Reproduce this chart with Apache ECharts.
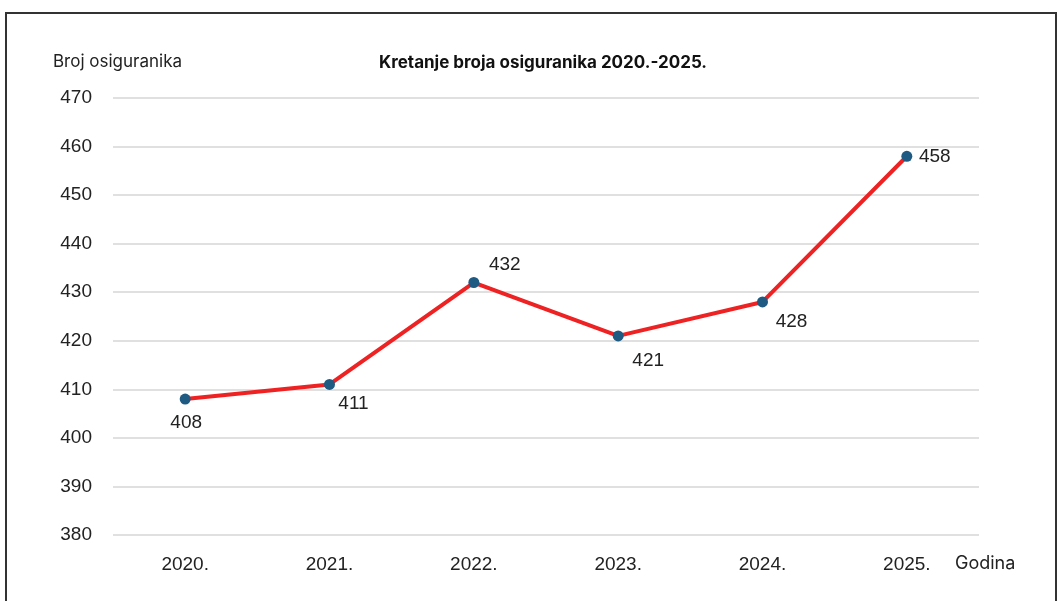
<!DOCTYPE html>
<html><head><meta charset="utf-8">
<script src="https://cdn.jsdelivr.net/npm/echarts@6/dist/echarts.min.js"></script>
<style>
html,body{margin:0;padding:0;background:#fff;}
#c{width:1058px;height:601px;position:relative;}
#frame{position:absolute;left:5px;top:12px;width:1048px;height:600px;border-left:2px solid #333;border-top:2px solid #333;border-right:2px solid #333;pointer-events:none;}
</style></head>
<body>
<div id="c"></div>
<div id="frame"></div>
<script>
const categories = ['2020.', '2021.', '2022.', '2023.', '2024.', '2025.'];
const values = [408, 411, 432, 421, 428, 458];
const yTicks = [380, 390, 400, 410, 420, 430, 440, 450, 460, 470];

const labelOffsets = [[1, 24], [24, 19], [31, -18], [30, 25], [29, 20], [28, 0]];

const chart = echarts.init(document.getElementById('c'));
chart.setOption({
  animation: false,
  title: {
    text: 'Kretanje broja osiguranika 2020.-2025.',
    left: 538, top: 49, textAlign: 'center',
    textStyle: {fontFamily: 'Inter', fontWeight: 'bold', fontSize: 17, color: '#111'}
  },
  grid: {left: 113, right: 79, top: 98, bottom: 66},
  xAxis: {
    type: 'category', data: categories, boundaryGap: true,
    name: 'Godina', nameLocation: 'end', nameGap: -24,
    nameTextStyle: {fontFamily: 'Inter', fontSize: 18, color: '#222', align: 'left', verticalAlign: 'top', padding: [20, 0, 0, 0]},
    axisLine: {show: false}, axisTick: {show: false},
    axisLabel: {fontFamily: 'Liberation Sans', fontSize: 19, color: '#222', margin: 20}
  },
  yAxis: {
    type: 'value', min: yTicks[0], max: yTicks[yTicks.length - 1], interval: 10,
    name: 'Broj osiguranika', nameLocation: 'end', nameGap: 28,
    nameTextStyle: {fontFamily: 'Inter', fontSize: 17, color: '#222', align: 'left', padding: [0, 0, 0, -60]},
    axisLine: {show: false}, axisTick: {show: false},
    splitLine: {lineStyle: {color: '#e0e0e0', width: 2}},
    axisLabel: {fontFamily: 'Liberation Sans', fontSize: 19, color: '#222', margin: 21}
  },
  series: [{
    type: 'line',
    data: values.map((v, i) => ({value: v, label: {position: 'inside', offset: labelOffsets[i]}})),
    symbol: 'circle', symbolSize: 11,
    lineStyle: {color: '#ee2222', width: 4},
    itemStyle: {color: '#1f5a82'},
    label: {show: true, fontFamily: 'Liberation Sans', fontSize: 19, color: '#222'}
  }]
});
</script>
</body></html>
